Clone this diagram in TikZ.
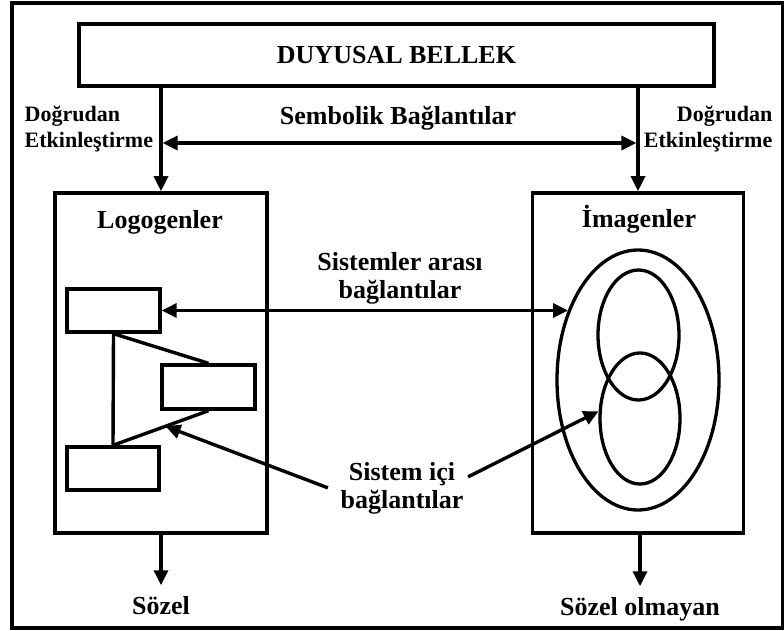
\documentclass[tikz,border=0pt]{standalone}
\usepackage{fontspec}
\setmainfont{Liberation Serif}
\usetikzlibrary{arrows.meta,shapes.geometric,calc}
\begin{document}
\begin{tikzpicture}[x=1pt,y=-1pt, line width=3.4pt,
  tip/.style={-{Triangle[length=15pt,width=14pt]}},
  dtip/.style={{Triangle[length=15pt,width=14pt]}-{Triangle[length=15pt,width=14pt]}},
  box/.style={draw, rectangle, inner sep=0pt, line width=3.6pt},
  sbox/.style={draw, rectangle, inner sep=0pt, line width=3.4pt},
  lbl/.style={font=\fontsize{26}{28}\selectfont\bfseries, inner sep=0pt},
  side/.style={font=\fontsize{22}{26}\selectfont\bfseries, inner sep=0pt},
  elp/.style={draw, ellipse, inner sep=0pt, line width=3.3pt}]
\useasboundingbox (0,0) rectangle (784,631);
\draw[line width=3.6pt] (12,3) rectangle (783,628);
% top box
\node[box, lbl, minimum width=635pt, minimum height=62pt] (db) at (396.5,55) {DUYUSAL BELLEK};
% big boxes
\node[box, minimum width=212pt, minimum height=340pt] (L) at (161,363) {};
\node[box, minimum width=211pt, minimum height=340pt] (I) at (638,363) {};
\node[lbl, anchor=base] (lt) at (160,228) {Logogenler};
\node[lbl, anchor=base] (it) at (639,227) {İmagenler};
% direct activation arrows
\draw[tip] (db.south -| L.north) -- (L.north);
\draw[tip] (db.south -| I.north) -- (I.north);
\coordinate (sy) at (398,143);
\draw[dtip, shorten <=1.6pt, shorten >=1.6pt] (sy -| L.north) -- (sy -| I.north);
\node[lbl, anchor=base] (sb) at (398,125) {Sembolik Bağlantılar};
\node[side, align=left, anchor=base west] (dl) at (23,148) {Doğrudan\\Etkinleştirme};
\node[side, align=right, anchor=base east] (dr) at (774,148) {Doğrudan\\Etkinleştirme};
% logogen boxes
\node[sbox, minimum width=93pt, minimum height=43pt] (b1) at (113.5,310.5) {};
\node[sbox, minimum width=93pt, minimum height=44pt] (b2) at (208.5,387) {};
\node[sbox, minimum width=92pt, minimum height=43pt] (b3) at (113,468.5) {};
\draw (b1.south) -- (b3.north);
\draw (b1.south) -- (b2.north);
\draw (b2.south) -- (b3.north);
% imagen ellipses
\node[elp, minimum width=162pt, minimum height=260pt] (eo) at (638,380) {};
\node[elp, minimum width=81pt, minimum height=130pt] (e1) at (638.5,335) {};
\node[elp, minimum width=80pt, minimum height=131pt] (e2) at (640,418.5) {};
% between systems
\node[lbl, align=center, anchor=base] (sa) at (400,298) {Sistemler arası\\bağlantılar};
\draw[dtip] (b1.east) -- (b1.east -| eo.135);
% within systems
\node[lbl, align=center, anchor=base] (si) at (402,508) {Sistem içi\\bağlantılar};
\path (b2.south) -- (b3.north) coordinate[pos=0.45] (dg);
\draw[tip] ([xshift=-11pt]si.west) -- (dg);
\draw[tip] ([xshift=3pt,yshift=11pt]si.east) -- (e2.170);
% outputs
\node[lbl, anchor=base] (sz) at (161,614) {Sözel};
\node[lbl, anchor=base] (so) at (640,615) {Sözel olmayan};
\draw[tip] (L.south) -- ([yshift=9pt]sz.north);
\draw[tip] (I.south -| so.north) -- ([yshift=9pt]so.north);
\end{tikzpicture}
\end{document}
